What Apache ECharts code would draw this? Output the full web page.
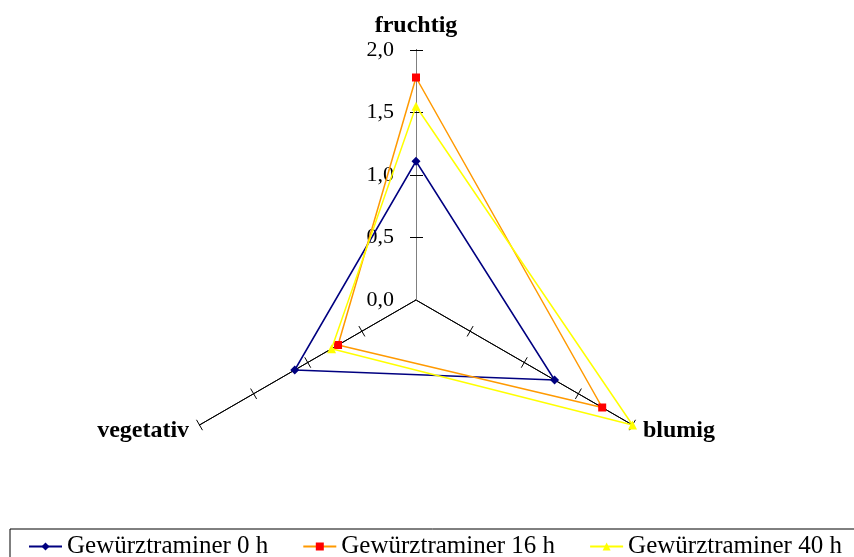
<!DOCTYPE html>
<html>
<head>
<meta charset="utf-8">
<script src="https://cdn.jsdelivr.net/npm/echarts@6/dist/echarts.min.js"></script>
<style>html,body{margin:0;padding:0;background:#fff}#c{width:854px;height:557px}</style>
</head>
<body>
<div id="c"></div>
<script>
// Axes (ECharts radar order: top, then counter-clockwise)
const indicators = ['fruchtig', 'vegetativ', 'blumig'];
const seriesNames = ['Gewürztraminer 0 h', 'Gewürztraminer 16 h', 'Gewürztraminer 40 h'];
const values0h  = [1.11, 1.12, 1.28];
const values16h = [1.78, 0.72, 1.72];
const values40h = [1.55, 0.78, 2.00];
const tickValues = [0.5, 1.0, 1.5, 2.0];
const axisMin = 0, axisMax = 2, axisStep = 0.5;

const FONT = 'Liberation Serif';
const styles = [
  {line: '#000080', mark: '#000080', symbol: 'diamond', size: 9},
  {line: '#FF9900', mark: '#FF0000', symbol: 'rect', size: 8},
  {line: '#FFFF00', mark: '#FFFF00', symbol: 'triangle', size: 9}
];
const allValues = [values0h, values16h, values40h];

const radarBase = {
  center: [416, 300],
  radius: 250,
  startAngle: 90,
  splitNumber: (axisMax - axisMin) / axisStep,
  indicator: indicators.map(n => ({name: n, min: axisMin, max: axisMax})),
  splitLine: {show: false},
  splitArea: {show: false},
  axisLabel: {show: false},
  axisLine: {lineStyle: {color: '#000', width: 1}}
};

const chart = echarts.init(document.getElementById('c'), null, {renderer: 'canvas'});
const series = [];
// legend carriers (line icon with marker)
seriesNames.forEach((n, i) => {
  series.push({
    type: 'line', name: n, xAxisIndex: 0, yAxisIndex: 0, data: [],
    symbol: styles[i].symbol, symbolSize: styles[i].size,
    lineStyle: {color: styles[i].line, width: 1.5},
    itemStyle: {color: styles[i].mark}
  });
});
seriesNames.forEach((n, i) => {
  series.push({
    type: 'radar', name: n, radarIndex: 0,
    symbol: styles[i].symbol, symbolSize: styles[i].size,
    lineStyle: {color: styles[i].line, width: 1.5},
    itemStyle: {color: styles[i].mark},
    data: [{value: allValues[i], name: n}],
    z: 3 + i
  });
});

chart.setOption({
  animation: false,
  backgroundColor: '#fff',
  radar: [
    Object.assign({}, radarBase, {
      nameGap: 12,
      axisName: {color: '#000', fontFamily: FONT, fontWeight: 'bold', fontSize: 24},
      axisTick: {show: true, length: 6, customValues: tickValues, lineStyle: {color: '#000', width: 1}}
    }),
    Object.assign({}, radarBase, {
      axisName: {show: false},
      axisTick: {show: true, length: -6, customValues: tickValues, lineStyle: {color: '#000', width: 1}}
    })
  ],
  grid: {left: 416, top: 50, height: 250, width: 10, containLabel: false},
  xAxis: {type: 'value', show: false},
  yAxis: [
    {type: 'value', min: axisMin, max: axisMax, interval: axisStep, position: 'left',
     axisLine: {show: true, lineStyle: {color: '#808080', width: 1}},
     axisTick: {show: true, length: 6, customValues: tickValues, lineStyle: {color: '#000'}},
     splitLine: {show: false},
     axisLabel: {margin: 22, color: '#000', fontFamily: FONT, fontSize: 22,
       formatter: v => v.toFixed(1).replace('.', ',')}},
    {type: 'value', min: axisMin, max: axisMax, interval: axisStep, position: 'left', offset: 0,
     axisLine: {show: false},
     axisTick: {show: true, inside: true, length: 7, customValues: tickValues, lineStyle: {color: '#000'}},
     splitLine: {show: false}, axisLabel: {show: false}}
  ],
  legend: {
    data: seriesNames,
    left: 10, top: 529,
    width: 1000,
    orient: 'horizontal',
    padding: [5, 30, 30, 18],
    borderColor: '#000', borderWidth: 1,
    itemWidth: 33, itemHeight: 10, itemGap: 34,
    textStyle: {fontFamily: FONT, fontSize: 25, color: '#000'}
  },
  series: series
});
</script>
</body>
</html>
